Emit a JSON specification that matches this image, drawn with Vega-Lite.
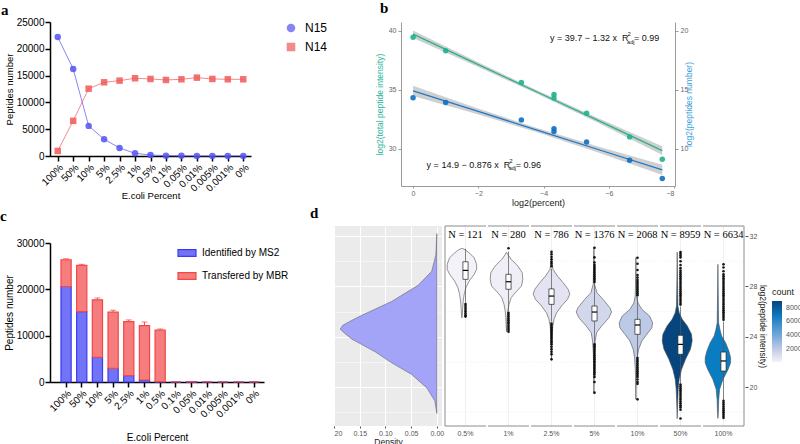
{
"$schema": "https://vega.github.io/schema/vega-lite/v6.json",
"padding": 0,
"background": "white",
"config": {
  "font": "Liberation Sans",
  "view": {"stroke": null},
  "facet": {"spacing": 0},
  "title": {"font": "Liberation Serif", "fontSize": 15, "fontWeight": "bold", "color": "black", "anchor": "start", "frame": "group"},
  "axis": {"labelFont": "Liberation Sans", "titleFont": "Liberation Sans"},
  "legend": {"labelFont": "Liberation Sans", "titleFont": "Liberation Sans"}
},
"datasets": {
  "lineData": [
    {"pct": "100%", "series": "N15", "value": 22190}, {"pct": "50%", "series": "N15", "value": 16250},
    {"pct": "10%", "series": "N15", "value": 5620}, {"pct": "5%", "series": "N15", "value": 3130},
    {"pct": "2.5%", "series": "N15", "value": 1500}, {"pct": "1%", "series": "N15", "value": 500},
    {"pct": "0.5%", "series": "N15", "value": 190}, {"pct": "0.1%", "series": "N15", "value": 60},
    {"pct": "0.05%", "series": "N15", "value": 30}, {"pct": "0.01%", "series": "N15", "value": 20},
    {"pct": "0.005%", "series": "N15", "value": 10}, {"pct": "0.001%", "series": "N15", "value": 10},
    {"pct": "0%", "series": "N15", "value": 5},
    {"pct": "100%", "series": "N14", "value": 940}, {"pct": "50%", "series": "N14", "value": 6560},
    {"pct": "10%", "series": "N14", "value": 12560}, {"pct": "5%", "series": "N14", "value": 13750},
    {"pct": "2.5%", "series": "N14", "value": 14060}, {"pct": "1%", "series": "N14", "value": 14500},
    {"pct": "0.5%", "series": "N14", "value": 14375}, {"pct": "0.1%", "series": "N14", "value": 14190},
    {"pct": "0.05%", "series": "N14", "value": 14310}, {"pct": "0.01%", "series": "N14", "value": 14620},
    {"pct": "0.005%", "series": "N14", "value": 14375}, {"pct": "0.001%", "series": "N14", "value": 14310},
    {"pct": "0%", "series": "N14", "value": 14310}
  ],
  "barData": [
    {"pct": "100%", "type": "Identified by MS2", "value": 20610}, {"pct": "50%", "type": "Identified by MS2", "value": 15200},
    {"pct": "10%", "type": "Identified by MS2", "value": 5340}, {"pct": "5%", "type": "Identified by MS2", "value": 2960},
    {"pct": "2.5%", "type": "Identified by MS2", "value": 1370}, {"pct": "1%", "type": "Identified by MS2", "value": 430},
    {"pct": "0.5%", "type": "Identified by MS2", "value": 100}, {"pct": "0.1%", "type": "Identified by MS2", "value": 0},
    {"pct": "0.05%", "type": "Identified by MS2", "value": 30}, {"pct": "0.01%", "type": "Identified by MS2", "value": 0},
    {"pct": "0.005%", "type": "Identified by MS2", "value": 0}, {"pct": "0.001%", "type": "Identified by MS2", "value": 0},
    {"pct": "0%", "type": "Identified by MS2", "value": 0},
    {"pct": "100%", "type": "Transfered by MBR", "value": 5780}, {"pct": "50%", "type": "Transfered by MBR", "value": 9960},
    {"pct": "10%", "type": "Transfered by MBR", "value": 12400}, {"pct": "5%", "type": "Transfered by MBR", "value": 12110},
    {"pct": "2.5%", "type": "Transfered by MBR", "value": 11670}, {"pct": "1%", "type": "Transfered by MBR", "value": 11750},
    {"pct": "0.5%", "type": "Transfered by MBR", "value": 11080}, {"pct": "0.1%", "type": "Transfered by MBR", "value": 0},
    {"pct": "0.05%", "type": "Transfered by MBR", "value": 0}, {"pct": "0.01%", "type": "Transfered by MBR", "value": 0},
    {"pct": "0.005%", "type": "Transfered by MBR", "value": 0}, {"pct": "0.001%", "type": "Transfered by MBR", "value": 0},
    {"pct": "0%", "type": "Transfered by MBR", "value": 0}
  ],
  "errData": [
    {"pct": "100%", "total": 26390, "hi": 26600}, {"pct": "50%", "total": 25160, "hi": 25400},
    {"pct": "10%", "total": 17740, "hi": 18150}, {"pct": "5%", "total": 15070, "hi": 15500},
    {"pct": "2.5%", "total": 13040, "hi": 13400}, {"pct": "1%", "total": 12180, "hi": 12950},
    {"pct": "0.5%", "total": 11180, "hi": 11450}
  ],
  "bpts": [
    {"x": 0, "teal": 39.44, "blue": 14.32}, {"x": -1, "teal": 38.3, "blue": 13.92},
    {"x": -3.32, "teal": 35.6, "blue": 12.44}, {"x": -4.32, "teal": 34.6, "blue": 11.7},
    {"x": -4.32, "teal": 34.3, "blue": 11.45}, {"x": -5.32, "teal": 33.0, "blue": 10.56},
    {"x": -6.64, "teal": 31.0, "blue": 9.03}, {"x": -7.64, "teal": 29.1, "blue": 7.47}
  ],
  "bfit": [
    {"x": 0, "tfit": 39.7, "tlo": 39.38, "thi": 40.02, "bfit": 14.9, "blo": 14.47, "bhi": 15.33},
    {"x": -1.9, "tfit": 37.25, "tlo": 37.05, "thi": 37.45, "bfit": 13.24, "blo": 12.99, "bhi": 13.49},
    {"x": -3.8, "tfit": 34.8, "tlo": 34.65, "thi": 34.95, "bfit": 11.57, "blo": 11.39, "bhi": 11.75},
    {"x": -5.7, "tfit": 32.35, "tlo": 32.15, "thi": 32.55, "bfit": 9.91, "blo": 9.66, "bhi": 10.16},
    {"x": -7.64, "tfit": 29.84, "tlo": 29.47, "thi": 30.21, "bfit": 8.21, "blo": 7.78, "bhi": 8.64}
  ],
  "dens": [
    {"val": 17.9, "dens": 0}, {"val": 18.9, "dens": 0.004}, {"val": 19.9, "dens": 0.019}, {"val": 21.0, "dens": 0.049},
    {"val": 22.0, "dens": 0.091}, {"val": 22.8, "dens": 0.12}, {"val": 23.8, "dens": 0.165}, {"val": 24.3, "dens": 0.18},
    {"val": 24.6, "dens": 0.188}, {"val": 24.9, "dens": 0.183}, {"val": 25.2, "dens": 0.17}, {"val": 25.7, "dens": 0.146},
    {"val": 26.8, "dens": 0.088}, {"val": 28.1, "dens": 0.036}, {"val": 29.2, "dens": 0.01}, {"val": 30.5, "dens": 0.002},
    {"val": 32.2, "dens": 0}
  ],
  "vio": [
    {"k": "v", "g": "0.5%", "count": 121, "val": 25.5, "w": 0}, {"k": "v", "g": "0.5%", "count": 121, "val": 25.64, "w": 0.6},
    {"k": "v", "g": "0.5%", "count": 121, "val": 26.3, "w": 1.6}, {"k": "v", "g": "0.5%", "count": 121, "val": 26.84, "w": 2.6},
    {"k": "v", "g": "0.5%", "count": 121, "val": 27.37, "w": 4.6}, {"k": "v", "g": "0.5%", "count": 121, "val": 27.9, "w": 8},
    {"k": "v", "g": "0.5%", "count": 121, "val": 28.43, "w": 14.6}, {"k": "v", "g": "0.5%", "count": 121, "val": 28.96, "w": 24.6},
    {"k": "v", "g": "0.5%", "count": 121, "val": 29.35, "w": 29.4}, {"k": "v", "g": "0.5%", "count": 121, "val": 29.75, "w": 29.4},
    {"k": "v", "g": "0.5%", "count": 121, "val": 30.28, "w": 24.6}, {"k": "v", "g": "0.5%", "count": 121, "val": 30.68, "w": 14},
    {"k": "v", "g": "0.5%", "count": 121, "val": 30.9, "w": 7}, {"k": "v", "g": "0.5%", "count": 121, "val": 31.03, "w": 0},

    {"k": "v", "g": "1%", "count": 280, "val": 24.4, "w": 0}, {"k": "v", "g": "1%", "count": 280, "val": 24.86, "w": 0.6},
    {"k": "v", "g": "1%", "count": 280, "val": 25.51, "w": 1.4}, {"k": "v", "g": "1%", "count": 280, "val": 26.04, "w": 2.6},
    {"k": "v", "g": "1%", "count": 280, "val": 26.57, "w": 5}, {"k": "v", "g": "1%", "count": 280, "val": 27.1, "w": 9.4},
    {"k": "v", "g": "1%", "count": 280, "val": 27.52, "w": 18}, {"k": "v", "g": "1%", "count": 280, "val": 28.03, "w": 30},
    {"k": "v", "g": "1%", "count": 280, "val": 28.56, "w": 32.6}, {"k": "v", "g": "1%", "count": 280, "val": 29.09, "w": 31.4},
    {"k": "v", "g": "1%", "count": 280, "val": 29.62, "w": 22.6}, {"k": "v", "g": "1%", "count": 280, "val": 30.15, "w": 9.4},
    {"k": "v", "g": "1%", "count": 280, "val": 30.45, "w": 4}, {"k": "v", "g": "1%", "count": 280, "val": 30.71, "w": 0},

    {"k": "v", "g": "2.5%", "count": 786, "val": 22.21, "w": 0}, {"k": "v", "g": "2.5%", "count": 786, "val": 23.01, "w": 0.6},
    {"k": "v", "g": "2.5%", "count": 786, "val": 24.05, "w": 1.4}, {"k": "v", "g": "2.5%", "count": 786, "val": 24.84, "w": 2.6},
    {"k": "v", "g": "2.5%", "count": 786, "val": 25.38, "w": 5}, {"k": "v", "g": "2.5%", "count": 786, "val": 25.89, "w": 10},
    {"k": "v", "g": "2.5%", "count": 786, "val": 26.44, "w": 20}, {"k": "v", "g": "2.5%", "count": 786, "val": 26.97, "w": 32},
    {"k": "v", "g": "2.5%", "count": 786, "val": 27.37, "w": 36.6}, {"k": "v", "g": "2.5%", "count": 786, "val": 27.77, "w": 33.4},
    {"k": "v", "g": "2.5%", "count": 786, "val": 28.29, "w": 23.4}, {"k": "v", "g": "2.5%", "count": 786, "val": 28.82, "w": 12},
    {"k": "v", "g": "2.5%", "count": 786, "val": 29.35, "w": 3}, {"k": "v", "g": "2.5%", "count": 786, "val": 29.9, "w": 1},
    {"k": "v", "g": "2.5%", "count": 786, "val": 30.4, "w": 0},

    {"k": "v", "g": "5%", "count": 1376, "val": 19.5, "w": 0}, {"k": "v", "g": "5%", "count": 1376, "val": 21.65, "w": 0.6},
    {"k": "v", "g": "5%", "count": 1376, "val": 22.7, "w": 1.2}, {"k": "v", "g": "5%", "count": 1376, "val": 23.64, "w": 2.6},
    {"k": "v", "g": "5%", "count": 1376, "val": 24.32, "w": 5.4}, {"k": "v", "g": "5%", "count": 1376, "val": 24.85, "w": 15.4},
    {"k": "v", "g": "5%", "count": 1376, "val": 25.5, "w": 30}, {"k": "v", "g": "5%", "count": 1376, "val": 25.96, "w": 35.4},
    {"k": "v", "g": "5%", "count": 1376, "val": 26.3, "w": 32}, {"k": "v", "g": "5%", "count": 1376, "val": 26.96, "w": 18.6},
    {"k": "v", "g": "5%", "count": 1376, "val": 27.5, "w": 6}, {"k": "v", "g": "5%", "count": 1376, "val": 28.16, "w": 1.4},
    {"k": "v", "g": "5%", "count": 1376, "val": 29.5, "w": 0.8}, {"k": "v", "g": "5%", "count": 1376, "val": 31.1, "w": 0},

    {"k": "v", "g": "10%", "count": 2068, "val": 19.02, "w": 0}, {"k": "v", "g": "10%", "count": 2068, "val": 20.35, "w": 0.6},
    {"k": "v", "g": "10%", "count": 2068, "val": 21.41, "w": 1.2}, {"k": "v", "g": "10%", "count": 2068, "val": 22.33, "w": 2.6},
    {"k": "v", "g": "10%", "count": 2068, "val": 22.99, "w": 5.4}, {"k": "v", "g": "10%", "count": 2068, "val": 23.66, "w": 12},
    {"k": "v", "g": "10%", "count": 2068, "val": 24.19, "w": 22}, {"k": "v", "g": "10%", "count": 2068, "val": 24.71, "w": 32},
    {"k": "v", "g": "10%", "count": 2068, "val": 25.11, "w": 33.4}, {"k": "v", "g": "10%", "count": 2068, "val": 25.64, "w": 27.4},
    {"k": "v", "g": "10%", "count": 2068, "val": 26.17, "w": 12}, {"k": "v", "g": "10%", "count": 2068, "val": 26.7, "w": 4},
    {"k": "v", "g": "10%", "count": 2068, "val": 27.23, "w": 1.4}, {"k": "v", "g": "10%", "count": 2068, "val": 28.51, "w": 0.6},
    {"k": "v", "g": "10%", "count": 2068, "val": 30.3, "w": 0},

    {"k": "v", "g": "50%", "count": 8959, "val": 17.49, "w": 0}, {"k": "v", "g": "50%", "count": 8959, "val": 18.5, "w": 0.8},
    {"k": "v", "g": "50%", "count": 8959, "val": 19.8, "w": 2}, {"k": "v", "g": "50%", "count": 8959, "val": 20.61, "w": 4},
    {"k": "v", "g": "50%", "count": 8959, "val": 21.39, "w": 8.6}, {"k": "v", "g": "50%", "count": 8959, "val": 22.2, "w": 16.6},
    {"k": "v", "g": "50%", "count": 8959, "val": 23.02, "w": 26.6}, {"k": "v", "g": "50%", "count": 8959, "val": 23.67, "w": 30},
    {"k": "v", "g": "50%", "count": 8959, "val": 24.2, "w": 28.6}, {"k": "v", "g": "50%", "count": 8959, "val": 24.87, "w": 20},
    {"k": "v", "g": "50%", "count": 8959, "val": 25.39, "w": 10}, {"k": "v", "g": "50%", "count": 8959, "val": 25.91, "w": 4},
    {"k": "v", "g": "50%", "count": 8959, "val": 26.44, "w": 1.4}, {"k": "v", "g": "50%", "count": 8959, "val": 28.49, "w": 0.6},
    {"k": "v", "g": "50%", "count": 8959, "val": 30.72, "w": 0},

    {"k": "v", "g": "100%", "count": 6634, "val": 17.51, "w": 0}, {"k": "v", "g": "100%", "count": 6634, "val": 17.95, "w": 0.8},
    {"k": "v", "g": "100%", "count": 6634, "val": 18.98, "w": 1.6}, {"k": "v", "g": "100%", "count": 6634, "val": 19.82, "w": 3.4},
    {"k": "v", "g": "100%", "count": 6634, "val": 20.59, "w": 10}, {"k": "v", "g": "100%", "count": 6634, "val": 21.42, "w": 20.6},
    {"k": "v", "g": "100%", "count": 6634, "val": 21.93, "w": 25.4}, {"k": "v", "g": "100%", "count": 6634, "val": 22.34, "w": 25.4},
    {"k": "v", "g": "100%", "count": 6634, "val": 22.86, "w": 22}, {"k": "v", "g": "100%", "count": 6634, "val": 23.52, "w": 15.4},
    {"k": "v", "g": "100%", "count": 6634, "val": 24.06, "w": 7.4}, {"k": "v", "g": "100%", "count": 6634, "val": 24.58, "w": 4},
    {"k": "v", "g": "100%", "count": 6634, "val": 25.1, "w": 1.4}, {"k": "v", "g": "100%", "count": 6634, "val": 27.52, "w": 0.6},
    {"k": "v", "g": "100%", "count": 6634, "val": 29.75, "w": 0},

    {"k": "w", "g": "0.5%", "val": 26.7, "val2": 31.0}, {"k": "w", "g": "1%", "val": 26.04, "val2": 30.75},
    {"k": "w", "g": "2.5%", "val": 25.2, "val2": 29.4}, {"k": "w", "g": "5%", "val": 23.5, "val2": 28.2},
    {"k": "w", "g": "10%", "val": 22.4, "val2": 27.2}, {"k": "w", "g": "50%", "val": 20.3, "val2": 26.4},
    {"k": "w", "g": "100%", "val": 19.0, "val2": 25.2},
    {"k": "b", "g": "0.5%", "val": 28.56, "val2": 29.96}, {"k": "b", "g": "1%", "val": 27.77, "val2": 28.96},
    {"k": "b", "g": "2.5%", "val": 26.57, "val2": 27.8}, {"k": "b", "g": "5%", "val": 25.25, "val2": 26.44},
    {"k": "b", "g": "10%", "val": 24.19, "val2": 25.38}, {"k": "b", "g": "50%", "val": 22.6, "val2": 24.11},
    {"k": "b", "g": "100%", "val": 21.27, "val2": 22.78},
    {"k": "m", "g": "0.5%", "val": 29.27}, {"k": "m", "g": "1%", "val": 28.37}, {"k": "m", "g": "2.5%", "val": 27.23},
    {"k": "m", "g": "5%", "val": 25.96}, {"k": "m", "g": "10%", "val": 24.93}, {"k": "m", "g": "50%", "val": 23.39},
    {"k": "m", "g": "100%", "val": 22.07},
    {"k": "s", "g": "0.5%", "label": "N = 121"}, {"k": "s", "g": "1%", "label": "N = 280"}, {"k": "s", "g": "2.5%", "label": "N = 786"},
    {"k": "s", "g": "5%", "label": "N = 1376"}, {"k": "s", "g": "10%", "label": "N = 2068"}, {"k": "s", "g": "50%", "label": "N = 8959"},
    {"k": "s", "g": "100%", "label": "N = 6634"},

    {"k": "o", "g": "0.5%", "val": 26.6}, {"k": "o", "g": "0.5%", "val": 26.45}, {"k": "o", "g": "0.5%", "val": 26.3}, {"k": "o", "g": "0.5%", "val": 26.15},
    {"k": "o", "g": "0.5%", "val": 26.0}, {"k": "o", "g": "0.5%", "val": 25.85}, {"k": "o", "g": "0.5%", "val": 25.7}, {"k": "o", "g": "0.5%", "val": 25.6},

    {"k": "o", "g": "1%", "val": 31.03}, {"k": "o", "g": "1%", "val": 25.9}, {"k": "o", "g": "1%", "val": 25.75}, {"k": "o", "g": "1%", "val": 25.6},
    {"k": "o", "g": "1%", "val": 25.45}, {"k": "o", "g": "1%", "val": 25.3}, {"k": "o", "g": "1%", "val": 25.15}, {"k": "o", "g": "1%", "val": 25.0},
    {"k": "o", "g": "1%", "val": 24.85}, {"k": "o", "g": "1%", "val": 24.7}, {"k": "o", "g": "1%", "val": 24.55}, {"k": "o", "g": "1%", "val": 24.4},

    {"k": "o", "g": "2.5%", "val": 30.74}, {"k": "o", "g": "2.5%", "val": 30.55}, {"k": "o", "g": "2.5%", "val": 30.35}, {"k": "o", "g": "2.5%", "val": 30.15},
    {"k": "o", "g": "2.5%", "val": 29.95}, {"k": "o", "g": "2.5%", "val": 29.8}, {"k": "o", "g": "2.5%", "val": 29.6},
    {"k": "o", "g": "2.5%", "val": 25.05}, {"k": "o", "g": "2.5%", "val": 24.9}, {"k": "o", "g": "2.5%", "val": 24.75}, {"k": "o", "g": "2.5%", "val": 24.6},
    {"k": "o", "g": "2.5%", "val": 24.45}, {"k": "o", "g": "2.5%", "val": 24.3}, {"k": "o", "g": "2.5%", "val": 24.15}, {"k": "o", "g": "2.5%", "val": 24.0},
    {"k": "o", "g": "2.5%", "val": 23.85}, {"k": "o", "g": "2.5%", "val": 23.7}, {"k": "o", "g": "2.5%", "val": 23.55}, {"k": "o", "g": "2.5%", "val": 23.4},
    {"k": "o", "g": "2.5%", "val": 23.2}, {"k": "o", "g": "2.5%", "val": 23.0}, {"k": "o", "g": "2.5%", "val": 22.8}, {"k": "o", "g": "2.5%", "val": 22.6},
    {"k": "o", "g": "2.5%", "val": 22.2},

    {"k": "o", "g": "5%", "val": 31.07}, {"k": "o", "g": "5%", "val": 30.3}, {"k": "o", "g": "5%", "val": 29.9}, {"k": "o", "g": "5%", "val": 29.7},
    {"k": "o", "g": "5%", "val": 29.55}, {"k": "o", "g": "5%", "val": 29.4}, {"k": "o", "g": "5%", "val": 29.25}, {"k": "o", "g": "5%", "val": 29.1},
    {"k": "o", "g": "5%", "val": 28.95}, {"k": "o", "g": "5%", "val": 28.8}, {"k": "o", "g": "5%", "val": 28.65}, {"k": "o", "g": "5%", "val": 28.5},
    {"k": "o", "g": "5%", "val": 28.35},
    {"k": "o", "g": "5%", "val": 23.4}, {"k": "o", "g": "5%", "val": 23.25}, {"k": "o", "g": "5%", "val": 23.1}, {"k": "o", "g": "5%", "val": 22.95},
    {"k": "o", "g": "5%", "val": 22.8}, {"k": "o", "g": "5%", "val": 22.65}, {"k": "o", "g": "5%", "val": 22.5}, {"k": "o", "g": "5%", "val": 22.35},
    {"k": "o", "g": "5%", "val": 22.2}, {"k": "o", "g": "5%", "val": 22.05}, {"k": "o", "g": "5%", "val": 21.9}, {"k": "o", "g": "5%", "val": 21.75},
    {"k": "o", "g": "5%", "val": 21.6}, {"k": "o", "g": "5%", "val": 21.45}, {"k": "o", "g": "5%", "val": 21.3}, {"k": "o", "g": "5%", "val": 21.15},
    {"k": "o", "g": "5%", "val": 21.0}, {"k": "o", "g": "5%", "val": 20.8}, {"k": "o", "g": "5%", "val": 20.4}, {"k": "o", "g": "5%", "val": 19.55},

    {"k": "o", "g": "10%", "val": 30.28}, {"k": "o", "g": "10%", "val": 29.8}, {"k": "o", "g": "10%", "val": 29.3}, {"k": "o", "g": "10%", "val": 28.9},
    {"k": "o", "g": "10%", "val": 28.7}, {"k": "o", "g": "10%", "val": 28.5}, {"k": "o", "g": "10%", "val": 28.35}, {"k": "o", "g": "10%", "val": 28.2},
    {"k": "o", "g": "10%", "val": 28.05}, {"k": "o", "g": "10%", "val": 27.9}, {"k": "o", "g": "10%", "val": 27.75}, {"k": "o", "g": "10%", "val": 27.6},
    {"k": "o", "g": "10%", "val": 27.45}, {"k": "o", "g": "10%", "val": 27.3},
    {"k": "o", "g": "10%", "val": 22.3}, {"k": "o", "g": "10%", "val": 22.15}, {"k": "o", "g": "10%", "val": 22.0}, {"k": "o", "g": "10%", "val": 21.85},
    {"k": "o", "g": "10%", "val": 21.7}, {"k": "o", "g": "10%", "val": 21.55}, {"k": "o", "g": "10%", "val": 21.4}, {"k": "o", "g": "10%", "val": 21.25},
    {"k": "o", "g": "10%", "val": 21.1}, {"k": "o", "g": "10%", "val": 20.95}, {"k": "o", "g": "10%", "val": 20.8}, {"k": "o", "g": "10%", "val": 20.6},
    {"k": "o", "g": "10%", "val": 20.4}, {"k": "o", "g": "10%", "val": 20.25}, {"k": "o", "g": "10%", "val": 19.02},

    {"k": "o", "g": "50%", "val": 30.73}, {"k": "o", "g": "50%", "val": 30.6}, {"k": "o", "g": "50%", "val": 30.45}, {"k": "o", "g": "50%", "val": 30.3},
    {"k": "o", "g": "50%", "val": 30.0}, {"k": "o", "g": "50%", "val": 29.7}, {"k": "o", "g": "50%", "val": 29.45}, {"k": "o", "g": "50%", "val": 29.25},
    {"k": "o", "g": "50%", "val": 29.1}, {"k": "o", "g": "50%", "val": 28.95}, {"k": "o", "g": "50%", "val": 28.8}, {"k": "o", "g": "50%", "val": 28.65},
    {"k": "o", "g": "50%", "val": 28.5}, {"k": "o", "g": "50%", "val": 28.35}, {"k": "o", "g": "50%", "val": 28.2}, {"k": "o", "g": "50%", "val": 28.05},
    {"k": "o", "g": "50%", "val": 27.9}, {"k": "o", "g": "50%", "val": 27.75}, {"k": "o", "g": "50%", "val": 27.6}, {"k": "o", "g": "50%", "val": 27.45},
    {"k": "o", "g": "50%", "val": 27.3}, {"k": "o", "g": "50%", "val": 27.15}, {"k": "o", "g": "50%", "val": 27.0}, {"k": "o", "g": "50%", "val": 26.85},
    {"k": "o", "g": "50%", "val": 26.7}, {"k": "o", "g": "50%", "val": 26.55},
    {"k": "o", "g": "50%", "val": 20.2}, {"k": "o", "g": "50%", "val": 20.05}, {"k": "o", "g": "50%", "val": 19.9}, {"k": "o", "g": "50%", "val": 19.75},
    {"k": "o", "g": "50%", "val": 19.6}, {"k": "o", "g": "50%", "val": 19.45}, {"k": "o", "g": "50%", "val": 19.3}, {"k": "o", "g": "50%", "val": 19.15},
    {"k": "o", "g": "50%", "val": 19.0}, {"k": "o", "g": "50%", "val": 18.85}, {"k": "o", "g": "50%", "val": 18.7}, {"k": "o", "g": "50%", "val": 18.55},
    {"k": "o", "g": "50%", "val": 18.4}, {"k": "o", "g": "50%", "val": 18.2}, {"k": "o", "g": "50%", "val": 17.5},

    {"k": "o", "g": "100%", "val": 29.75}, {"k": "o", "g": "100%", "val": 29.5}, {"k": "o", "g": "100%", "val": 29.2}, {"k": "o", "g": "100%", "val": 28.95},
    {"k": "o", "g": "100%", "val": 28.8}, {"k": "o", "g": "100%", "val": 28.65}, {"k": "o", "g": "100%", "val": 28.5}, {"k": "o", "g": "100%", "val": 28.35},
    {"k": "o", "g": "100%", "val": 28.2}, {"k": "o", "g": "100%", "val": 28.05}, {"k": "o", "g": "100%", "val": 27.9}, {"k": "o", "g": "100%", "val": 27.75},
    {"k": "o", "g": "100%", "val": 27.6}, {"k": "o", "g": "100%", "val": 27.45}, {"k": "o", "g": "100%", "val": 27.3}, {"k": "o", "g": "100%", "val": 27.15},
    {"k": "o", "g": "100%", "val": 27.0}, {"k": "o", "g": "100%", "val": 26.85}, {"k": "o", "g": "100%", "val": 26.7}, {"k": "o", "g": "100%", "val": 26.55},
    {"k": "o", "g": "100%", "val": 26.4}, {"k": "o", "g": "100%", "val": 26.25}, {"k": "o", "g": "100%", "val": 26.1}, {"k": "o", "g": "100%", "val": 25.95},
    {"k": "o", "g": "100%", "val": 25.8}, {"k": "o", "g": "100%", "val": 25.65}, {"k": "o", "g": "100%", "val": 25.5}, {"k": "o", "g": "100%", "val": 25.35},
    {"k": "o", "g": "100%", "val": 18.9}, {"k": "o", "g": "100%", "val": 18.75}, {"k": "o", "g": "100%", "val": 18.6}, {"k": "o", "g": "100%", "val": 18.45},
    {"k": "o", "g": "100%", "val": 18.3}, {"k": "o", "g": "100%", "val": 18.15}, {"k": "o", "g": "100%", "val": 18.0}, {"k": "o", "g": "100%", "val": 17.85},
    {"k": "o", "g": "100%", "val": 17.7}, {"k": "o", "g": "100%", "val": 17.55}
  ]
},
"spacing": -1,
"resolve": {"scale": {"color": "independent", "shape": "independent", "stroke": "independent"}, "legend": {"color": "independent", "shape": "independent", "stroke": "independent"}},
"vconcat": [
  {
    "spacing": 47,
    "resolve": {"scale": {"color": "independent", "shape": "independent", "stroke": "independent"}, "legend": {"color": "independent", "shape": "independent", "stroke": "independent"}},
    "hconcat": [
      {"spacing": -9,
       "resolve": {"scale": {"color": "independent", "shape": "independent", "stroke": "independent"}, "legend": {"color": "independent", "shape": "independent", "stroke": "independent"}},
       "vconcat": [
        {"title": {"text": "a", "dx": -49, "offset": 3}, "width": 20, "height": 1, "data": {"values": [{"a": 1}]}, "mark": {"type": "rule", "opacity": 0}, "encoding": {}},
        {
          "width": 201, "height": 134,
          "data": {"name": "lineData"},
          "encoding": {
            "x": {"field": "pct", "type": "ordinal", "sort": ["100%","50%","10%","5%","2.5%","1%","0.5%","0.1%","0.05%","0.01%","0.005%","0.001%","0%"], "scale": {"padding": 0.5},
                  "axis": {"title": "E.coli Percent", "labelAngle": -45, "labelFontSize": 10, "labelColor": "black", "titleFontSize": 9.5, "titleFontWeight": "normal", "titleColor": "black", "domainColor": "black", "domainWidth": 1.5, "tickColor": "black", "tickWidth": 1.5, "tickSize": 5, "labelPadding": 1, "titlePadding": -3}},
            "y": {"field": "value", "type": "quantitative", "scale": {"domain": [0, 25000], "nice": false},
                  "axis": {"values": [0, 5000, 10000, 15000, 20000, 25000], "format": "d", "title": "Peptides number", "labelFontSize": 10, "labelColor": "black", "titleFontSize": 9.5, "titleFontWeight": "normal", "titleColor": "black", "domainColor": "black", "domainWidth": 1.5, "tickColor": "black", "tickWidth": 1.5, "tickSize": 5, "labelPadding": 1, "titlePadding": 2, "grid": false}},
            "color": {"field": "series", "type": "nominal", "scale": {"domain": ["N15", "N14"], "range": ["#5252f2", "#f25858"]},
                      "legend": {"title": null, "orient": "right", "offset": 34, "labelFontSize": 12, "labelColor": "black", "symbolSize": 50, "rowPadding": 5, "labelOffset": 8}}
          },
          "layer": [
            {"mark": {"type": "line", "strokeWidth": 1, "opacity": 0.7}},
            {"mark": {"type": "point", "filled": true, "size": 42, "opacity": 0.85},
             "encoding": {"shape": {"field": "series", "type": "nominal", "scale": {"domain": ["N15", "N14"], "range": ["circle", "square"]},
                                    "legend": {"title": null, "orient": "right", "offset": 34, "labelFontSize": 12, "labelColor": "black", "symbolSize": 50, "rowPadding": 5, "labelOffset": 8}}}}
          ]
        }
      ]},
      {"spacing": -17,
       "resolve": {"scale": {"color": "independent", "shape": "independent", "stroke": "independent"}, "legend": {"color": "independent", "shape": "independent", "stroke": "independent"}},
       "vconcat": [
        {"title": {"text": "b", "dx": -21, "offset": 5}, "width": 20, "height": 1, "data": {"values": [{"a": 1}]}, "mark": {"type": "rule", "opacity": 0}, "encoding": {}},
        {
          "width": 274, "height": 164,
          "layer": [
            {"layer": [
              {"data": {"name": "bfit"}, "mark": {"type": "area", "color": "#a8a8a8", "opacity": 0.55},
               "encoding": {
                 "x": {"field": "x", "type": "quantitative", "scale": {"domain": [-8.03, 0.37], "reverse": true, "nice": false, "zero": false},
                       "axis": {"values": [0, -2, -4, -6, -8], "title": "log2(percent)", "labelFontSize": 7, "labelColor": "#666", "domainColor": "#9a9a9a", "tickColor": "#9a9a9a", "tickSize": 2, "titleFontSize": 9, "titleFontWeight": "normal", "titleColor": "#222", "grid": false, "labelPadding": 1, "titlePadding": 2}},
                 "y": {"field": "tlo", "type": "quantitative", "scale": {"domain": [26.84, 40.73], "nice": false, "zero": false},
                       "axis": {"orient": "left", "values": [30, 35, 40], "title": "log2(total peptide intensity)", "titleColor": "#2ab597", "titleFontSize": 8.5, "titleFontWeight": "normal", "labelFontSize": 7, "labelColor": "#666", "domainColor": "#9a9a9a", "tickColor": "#9a9a9a", "tickSize": 3, "grid": false, "labelPadding": 2, "titlePadding": 4}},
                 "y2": {"field": "thi"}}},
              {"data": {"name": "bfit"}, "mark": {"type": "line", "color": "#2ab08f", "strokeWidth": 1.3},
               "encoding": {"x": {"field": "x", "type": "quantitative", "axis": {"title": "log2(percent)"}}, "y": {"field": "tfit", "type": "quantitative", "axis": {"title": "log2(total peptide intensity)"}}}},
              {"data": {"name": "bpts"}, "mark": {"type": "circle", "color": "#1fb28c", "size": 30, "opacity": 0.9},
               "encoding": {"x": {"field": "x", "type": "quantitative", "axis": {"title": "log2(percent)"}}, "y": {"field": "teal", "type": "quantitative", "axis": {"title": "log2(total peptide intensity)"}}}},
              {"data": {"values": [{"a": 1}]}, "mark": {"type": "text", "align": "right", "baseline": "middle", "dx": -8, "fontSize": 9, "color": "#111"},
               "encoding": {"text": {"value": "y = 39.7 − 1.32 x"}, "x": {"datum": -6.5}, "y": {"datum": 39.34}}},
              {"data": {"values": [{"a": 1}]}, "mark": {"type": "text", "align": "left", "baseline": "middle", "dx": -3, "fontSize": 9, "color": "#111"},
               "encoding": {"text": {"value": "R"}, "x": {"datum": -6.5}, "y": {"datum": 39.34}}},
              {"data": {"values": [{"a": 1}]}, "mark": {"type": "text", "align": "left", "baseline": "middle", "dx": 2.5, "dy": -4, "fontSize": 6, "color": "#111"},
               "encoding": {"text": {"value": "2"}, "x": {"datum": -6.5}, "y": {"datum": 39.34}}},
              {"data": {"values": [{"a": 1}]}, "mark": {"type": "text", "align": "left", "baseline": "middle", "dx": 2, "dy": 3.5, "fontSize": 5.5, "color": "#111"},
               "encoding": {"text": {"value": "adj"}, "x": {"datum": -6.5}, "y": {"datum": 39.34}}},
              {"data": {"values": [{"a": 1}]}, "mark": {"type": "text", "align": "left", "baseline": "middle", "dx": 9, "fontSize": 9, "color": "#111"},
               "encoding": {"text": {"value": "= 0.99"}, "x": {"datum": -6.5}, "y": {"datum": 39.34}}}
            ]},
            {"layer": [
              {"data": {"name": "bfit"}, "mark": {"type": "area", "color": "#a8a8a8", "opacity": 0.55},
               "encoding": {"x": {"field": "x", "type": "quantitative", "axis": {"title": "log2(percent)"}},
                            "y": {"field": "blo", "type": "quantitative", "scale": {"domain": [6.84, 20.73], "nice": false, "zero": false},
                                  "axis": {"orient": "right", "values": [10, 15, 20], "title": "log2(peptides number)", "titleColor": "#3aa0dc", "titleAngle": 270, "titleFontSize": 8.5, "titleFontWeight": "normal", "labelFontSize": 7, "labelColor": "#666", "domainColor": "#9a9a9a", "tickColor": "#9a9a9a", "tickSize": 3, "grid": false, "labelPadding": 2, "titlePadding": 6}},
                            "y2": {"field": "bhi"}}},
              {"data": {"name": "bfit"}, "mark": {"type": "line", "color": "#1f78c8", "strokeWidth": 1.3},
               "encoding": {"x": {"field": "x", "type": "quantitative", "axis": {"title": "log2(percent)"}}, "y": {"field": "bfit", "type": "quantitative", "axis": {"title": "log2(peptides number)"}}}},
              {"data": {"name": "bpts"}, "mark": {"type": "circle", "color": "#0e6fc0", "size": 30, "opacity": 0.9},
               "encoding": {"x": {"field": "x", "type": "quantitative", "axis": {"title": "log2(percent)"}}, "y": {"field": "blue", "type": "quantitative", "axis": {"title": "log2(peptides number)"}}}},
              {"data": {"values": [{"a": 1}]}, "mark": {"type": "text", "align": "right", "baseline": "middle", "dx": -8, "fontSize": 9, "color": "#111"},
               "encoding": {"text": {"value": "y = 14.9 − 0.876 x"}, "x": {"datum": -2.87}, "y": {"datum": 8.63}}},
              {"data": {"values": [{"a": 1}]}, "mark": {"type": "text", "align": "left", "baseline": "middle", "dx": -3, "fontSize": 9, "color": "#111"},
               "encoding": {"text": {"value": "R"}, "x": {"datum": -2.87}, "y": {"datum": 8.63}}},
              {"data": {"values": [{"a": 1}]}, "mark": {"type": "text", "align": "left", "baseline": "middle", "dx": 2.5, "dy": -4, "fontSize": 6, "color": "#111"},
               "encoding": {"text": {"value": "2"}, "x": {"datum": -2.87}, "y": {"datum": 8.63}}},
              {"data": {"values": [{"a": 1}]}, "mark": {"type": "text", "align": "left", "baseline": "middle", "dx": 2, "dy": 3.5, "fontSize": 5.5, "color": "#111"},
               "encoding": {"text": {"value": "adj"}, "x": {"datum": -2.87}, "y": {"datum": 8.63}}},
              {"data": {"values": [{"a": 1}]}, "mark": {"type": "text", "align": "left", "baseline": "middle", "dx": 9, "fontSize": 9, "color": "#111"},
               "encoding": {"text": {"value": "= 0.96"}, "x": {"datum": -2.87}, "y": {"datum": 8.63}}}
            ]}
          ],
          "resolve": {"scale": {"y": "independent"}}
        }
      ]}
    ]
  },
  {
    "spacing": 21,
    "resolve": {"scale": {"color": "independent", "shape": "independent", "stroke": "independent"}, "legend": {"color": "independent", "shape": "independent", "stroke": "independent"}},
    "hconcat": [
      {"spacing": -18,
       "resolve": {"scale": {"color": "independent", "shape": "independent", "stroke": "independent"}, "legend": {"color": "independent", "shape": "independent", "stroke": "independent"}},
       "vconcat": [
        {"width": 20, "height": 1, "data": {"values": [{"a": 1}]}, "mark": {"type": "rule", "opacity": 0}, "encoding": {}},
        {
          "title": {"text": "c", "dx": -50, "offset": 14},
          "width": 214, "height": 139,
          "layer": [
            {"data": {"name": "errData"}, "mark": {"type": "rule", "color": "#f04848", "strokeWidth": 1},
             "encoding": {
               "x": {"field": "pct", "type": "ordinal", "sort": ["100%","50%","10%","5%","2.5%","1%","0.5%","0.1%","0.05%","0.01%","0.005%","0.001%","0%"], "scale": {"paddingInner": 0.35, "paddingOuter": 0.5, "align": 0.7},
                     "axis": {"title": "E.coli Percent", "labelAngle": -45, "labelFontSize": 10, "labelColor": "black", "titleFontSize": 10, "titleFontWeight": "normal", "titleColor": "black", "domainColor": "black", "domainWidth": 1.5, "tickColor": "black", "tickWidth": 1.5, "tickSize": 5, "labelPadding": 1, "titlePadding": 13}},
               "y": {"field": "total", "type": "quantitative", "scale": {"domain": [0, 30000], "nice": false},
                     "axis": {"values": [0, 10000, 20000, 30000], "format": "d", "title": "Peptides number", "labelFontSize": 10, "labelColor": "black", "titleFontSize": 10, "titleFontWeight": "normal", "titleColor": "black", "domainColor": "black", "domainWidth": 1.5, "tickColor": "black", "tickWidth": 1.5, "tickSize": 5, "labelPadding": 1, "titlePadding": 2, "grid": false}},
               "y2": {"field": "hi"}
             }},
            {"data": {"name": "errData"}, "mark": {"type": "tick", "color": "#f04848", "thickness": 1, "size": 6},
             "encoding": {
               "x": {"field": "pct", "type": "ordinal", "sort": ["100%","50%","10%","5%","2.5%","1%","0.5%","0.1%","0.05%","0.01%","0.005%","0.001%","0%"]},
               "y": {"field": "hi", "type": "quantitative", "axis": {"title": "Peptides number"}}
             }},
            {"data": {"name": "barData"}, "mark": {"type": "bar", "strokeWidth": 1.2},
             "encoding": {
               "x": {"field": "pct", "type": "ordinal", "sort": ["100%","50%","10%","5%","2.5%","1%","0.5%","0.1%","0.05%","0.01%","0.005%","0.001%","0%"]},
               "y": {"field": "value", "type": "quantitative", "stack": "zero", "axis": {"title": "Peptides number"}},
               "order": {"field": "type", "type": "nominal", "sort": "ascending"},
               "color": {"field": "type", "type": "nominal", "scale": {"domain": ["Identified by MS2", "Transfered by MBR"], "range": ["#7373f7", "#f67d7d"]},
                         "legend": {"title": null, "orient": "none", "legendX": 127, "legendY": 0, "symbolType": "M-1,-0.38H1V0.38H-1Z", "symbolSize": 324, "symbolStrokeWidth": 1.2, "labelFontSize": 10, "labelColor": "black", "rowPadding": 7, "labelOffset": 5}},
               "stroke": {"field": "type", "type": "nominal", "scale": {"domain": ["Identified by MS2", "Transfered by MBR"], "range": ["#3b3bf2", "#f24747"]},
                         "legend": {"title": null, "orient": "none", "legendX": 127, "legendY": 0, "symbolType": "M-1,-0.38H1V0.38H-1Z", "symbolSize": 324, "symbolStrokeWidth": 1.2, "labelFontSize": 10, "labelColor": "black", "rowPadding": 7, "labelOffset": 5}}
             }}
          ]
        }
      ]},
      {
        "spacing": 0,
        "resolve": {"scale": {"color": "independent", "shape": "independent", "stroke": "independent"}, "legend": {"color": "independent", "shape": "independent", "stroke": "independent"}},
        "hconcat": [
          {
            "title": {"text": "d", "dx": -24, "offset": 5},
            "width": 108, "height": 200,
            "view": {"fill": "#ebebeb"},
            "data": {"name": "dens"},
            "mark": {"type": "area", "orient": "horizontal", "color": "#a3a3f7", "stroke": "#555", "strokeWidth": 0.5},
            "encoding": {
              "y": {"field": "val", "type": "quantitative", "scale": {"domain": [16.9, 32.8], "nice": false, "zero": false},
                    "axis": {"labels": false, "ticks": false, "domain": false, "title": null, "values": [18, 20, 22, 24, 26, 28, 30, 32], "gridColor": "white", "gridWidth": {"condition": {"test": "datum.value % 4 == 0", "value": 1}, "value": 0.5}}},
              "x": {"field": "dens", "type": "quantitative", "scale": {"domain": [-0.01, 0.2], "reverse": true, "nice": false, "zero": false},
                    "axis": {"values": [0, 0.05, 0.1, 0.15, 0.2], "labelExpr": "datum.value >= 0.2 ? '20' : format(datum.value, '.2f')", "labelFontSize": 7, "labelColor": "#555", "title": "Density", "titleFontSize": 8.5, "titleColor": "#222", "titleFontWeight": "normal", "domain": false, "tickColor": "#555", "tickSize": 2, "gridColor": "white", "labelPadding": 1, "titlePadding": 1}}
            }
          },
          {
            "data": {"name": "vio"},
            "spacing": {"column": 0, "row": 0},
            "facet": {"column": {"field": "g", "type": "nominal", "sort": ["0.5%", "1%", "2.5%", "5%", "10%", "50%", "100%"],
                                 "header": {"labelOrient": "bottom", "titleOrient": "bottom", "title": "LOR", "labelFontSize": 7, "labelColor": "#555", "titleFontSize": 8.5, "titleFontWeight": "normal", "titleColor": "#222", "labelPadding": 3, "titlePadding": 1}}},
            "spec": {
              "width": 41, "height": 200,
              "layer": [
                {"transform": [{"filter": "datum.k == 's'"}], "mark": {"type": "rule", "color": "#ececec", "strokeWidth": 0.8},
                 "encoding": {"x": {"datum": 18.3, "type": "quantitative", "scale": {"domain": [-2.2, 38.8], "nice": false, "zero": false}, "axis": null}}},
                {"transform": [{"filter": "datum.k == 's'"}], "mark": {"type": "rule", "color": "#f3f3f3", "strokeWidth": 0.5}, "encoding": {"y": {"datum": 18, "type": "quantitative"}}},
                {"transform": [{"filter": "datum.k == 's'"}], "mark": {"type": "rule", "color": "#f3f3f3", "strokeWidth": 0.5}, "encoding": {"y": {"datum": 22, "type": "quantitative"}}},
                {"transform": [{"filter": "datum.k == 's'"}], "mark": {"type": "rule", "color": "#f3f3f3", "strokeWidth": 0.5}, "encoding": {"y": {"datum": 26, "type": "quantitative"}}},
                {"transform": [{"filter": "datum.k == 's'"}], "mark": {"type": "rule", "color": "#f3f3f3", "strokeWidth": 0.5}, "encoding": {"y": {"datum": 30, "type": "quantitative"}}},
                {"transform": [{"filter": "datum.k == 'v'"}], "mark": {"type": "area", "orient": "horizontal", "stroke": "#4d4d4d", "strokeWidth": 0.6},
                 "encoding": {
                   "y": {"field": "val", "type": "quantitative", "scale": {"domain": [16.9, 32.8], "nice": false, "zero": false},
                         "axis": {"orient": "right", "values": [20, 24, 28, 32], "title": "log2(peptide intensity)", "titleFontSize": 8.5, "titleFontWeight": "normal", "titleColor": "#222", "labelFontSize": 7, "labelColor": "#555", "domain": false, "tickColor": "#555", "tickSize": 3, "labelPadding": 1, "titlePadding": 1, "gridColor": "#ebebeb", "gridWidth": 0.8}},
                   "x": {"field": "w", "type": "quantitative", "stack": "center", "impute": null, "axis": null},
                   "color": {"field": "count", "type": "quantitative", "scale": {"domain": [121, 2068, 4000, 6634, 8959], "range": ["#f4f2f9", "#bccae5", "#6fa8d8", "#0a7dc2", "#06457e"]},
                             "legend": {"title": "count", "orient": "none", "legendX": 327, "legendY": 62, "direction": "vertical", "gradientLength": 61, "gradientThickness": 10, "values": [2000, 4000, 6000, 8000], "format": "d", "labelFontSize": 7, "labelColor": "#555", "titleFontSize": 9, "titleFontWeight": "normal", "titleColor": "#222", "titlePadding": 4, "titleAnchor": "start", "labelOffset": 4}}
                 }},
                {"transform": [{"filter": "datum.k == 'w'"}], "mark": {"type": "rule", "color": "#555", "strokeWidth": 0.7},
                 "encoding": {"x": {"datum": 18.3, "type": "quantitative"}, "y": {"field": "val", "type": "quantitative"}, "y2": {"field": "val2"}}},
                {"transform": [{"filter": "datum.k == 'o'"}], "mark": {"type": "circle", "color": "black", "size": 7, "opacity": 0.9},
                 "encoding": {"x": {"datum": 18.3, "type": "quantitative"}, "y": {"field": "val", "type": "quantitative"}}},
                {"transform": [{"filter": "datum.k == 'b'"}], "mark": {"type": "rect", "fill": "white", "stroke": "#222", "strokeWidth": 0.7},
                 "encoding": {"x": {"datum": 15.7, "type": "quantitative"}, "x2": {"datum": 20.9}, "y": {"field": "val", "type": "quantitative"}, "y2": {"field": "val2"}}},
                {"transform": [{"filter": "datum.k == 'm'"}], "mark": {"type": "rule", "color": "black", "strokeWidth": 1.2},
                 "encoding": {"x": {"datum": 15.7, "type": "quantitative"}, "x2": {"datum": 20.9}, "y": {"field": "val", "type": "quantitative"}}},
                {"transform": [{"filter": "datum.k == 's'"}], "mark": {"type": "text", "font": "Liberation Serif", "fontSize": 10.5, "color": "black", "baseline": "middle"},
                 "encoding": {"text": {"field": "label"}, "x": {"datum": 18.3, "type": "quantitative"}, "y": {"datum": 32.05, "type": "quantitative"}}},
                {"transform": [{"filter": "datum.k == 's'"}], "mark": {"type": "rule", "color": "#8c8c8c", "strokeWidth": 1},
                 "encoding": {"y": {"datum": 32.8, "type": "quantitative"}}},
                {"transform": [{"filter": "datum.k == 's'"}], "mark": {"type": "rule", "color": "#8c8c8c", "strokeWidth": 1},
                 "encoding": {"y": {"datum": 16.9, "type": "quantitative"}}},
                {"transform": [{"filter": "datum.k == 's' && datum.g == '0.5%'"}], "mark": {"type": "rule", "color": "#8c8c8c", "strokeWidth": 1},
                 "encoding": {"x": {"datum": -2.2, "type": "quantitative"}}},
                {"transform": [{"filter": "datum.k == 's' && datum.g == '100%'"}], "mark": {"type": "rule", "color": "#8c8c8c", "strokeWidth": 1},
                 "encoding": {"x": {"datum": 38.8, "type": "quantitative"}}}
              ]
            }
          }
        ]
      }
    ]
  }
]
}
